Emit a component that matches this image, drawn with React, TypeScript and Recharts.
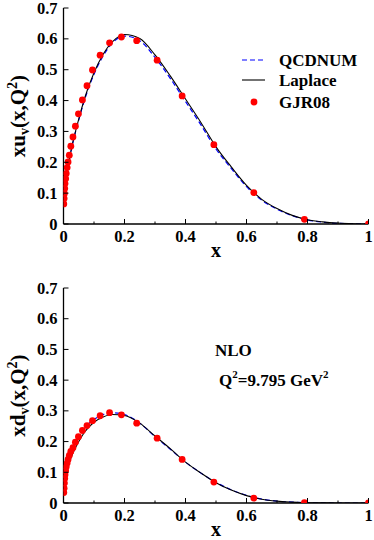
import React from 'react';
import { ComposedChart, Line, Scatter, XAxis, YAxis, Label } from 'recharts';

// ---------- data ----------
const curveX = [0.001, 0.002, 0.005, 0.01, 0.02, 0.03, 0.05, 0.07, 0.1, 0.13, 0.16, 0.2, 0.25, 0.3, 0.35, 0.4, 0.45, 0.5, 0.55, 0.6, 0.65, 0.7, 0.75, 0.8, 0.85, 0.9, 0.95, 1.0];

const uLaplace = [0.058, 0.072, 0.11, 0.155, 0.215, 0.262, 0.34, 0.41, 0.49, 0.55, 0.59, 0.614, 0.601, 0.548, 0.48, 0.405, 0.33, 0.25, 0.185, 0.125, 0.08, 0.05, 0.028, 0.014, 0.007, 0.003, 0.001, 0.0];
const uQcdnum = [0.055, 0.07, 0.107, 0.152, 0.212, 0.26, 0.337, 0.405, 0.485, 0.545, 0.586, 0.609, 0.594, 0.54, 0.472, 0.397, 0.322, 0.243, 0.18, 0.121, 0.077, 0.048, 0.027, 0.013, 0.006, 0.002, 0.001, 0.0];

const dLaplace = [0.03, 0.04, 0.07, 0.1, 0.135, 0.16, 0.2, 0.232, 0.263, 0.28, 0.288, 0.285, 0.26, 0.218, 0.177, 0.133, 0.098, 0.066, 0.042, 0.024, 0.012, 0.006, 0.003, 0.001, 0.0005, 0.0, 0.0, 0.0];
const dQcdnum = [0.035, 0.05, 0.085, 0.115, 0.152, 0.178, 0.215, 0.245, 0.272, 0.288, 0.294, 0.288, 0.26, 0.216, 0.175, 0.133, 0.098, 0.067, 0.043, 0.025, 0.013, 0.006, 0.003, 0.001, 0.0005, 0.0, 0.0, 0.0];

const gjrX = [0.001, 0.002, 0.003, 0.004, 0.005, 0.007, 0.009, 0.012, 0.015, 0.019, 0.024, 0.031, 0.039, 0.049, 0.062, 0.077, 0.095, 0.12, 0.151, 0.19, 0.24, 0.307, 0.389, 0.493, 0.624, 0.79, 1.0];
const gjrU = [0.065, 0.083, 0.099, 0.115, 0.131, 0.147, 0.164, 0.183, 0.201, 0.223, 0.252, 0.282, 0.317, 0.357, 0.402, 0.448, 0.499, 0.547, 0.587, 0.606, 0.594, 0.531, 0.415, 0.257, 0.102, 0.015, 0.0];
const gjrD = [0.034, 0.048, 0.065, 0.08, 0.092, 0.105, 0.118, 0.13, 0.142, 0.155, 0.168, 0.18, 0.198, 0.216, 0.236, 0.252, 0.268, 0.284, 0.294, 0.287, 0.26, 0.211, 0.142, 0.068, 0.016, 0.001, 0.0];

const xTicks = [0, 0.1, 0.2, 0.3, 0.4, 0.5, 0.6, 0.7, 0.8, 0.9, 1.0];
const xTickLabels: Record<string, string> = { '0': '0', '0.2': '0.2', '0.4': '0.4', '0.6': '0.6', '0.8': '0.8', '1': '1' };
const yTicks = [0, 0.1, 0.2, 0.3, 0.4, 0.5, 0.6, 0.7];
const yTickLabels = ['0', '0.1', '0.2', '0.3', '0.4', '0.5', '0.6', '0.7'];

const legendNames = ['QCDNUM', 'Laplace', 'GJR08'];

const toRows = (xs: number[], ys: number[]) => xs.map((x, i) => ({ x, y: ys[i] }));

// ---------- styling ----------
const FONT = '"Liberation Serif", "Times New Roman", serif';
const BLUE = '#0000ff';
const RED = '#ff0000';
const W = 374;
const H = 270;

const labelFor = (v: number) => xTickLabels[String(Math.round(v * 10) / 10)];

const XTickBottom = (props: any) => {
  const { x, y, payload } = props;
  const lab = labelFor(payload.value);
  const major = lab !== undefined;
  return (
    <g>
      <line x1={x} x2={x} y1={y} y2={y - (major ? 5 : 2.5)} stroke="#000" strokeWidth={1} />
      {major && (
        <text x={x} y={y + 18} textAnchor="middle" fontFamily={FONT} fontWeight="bold" fontSize={16.5} fill="#000">
          {lab}
        </text>
      )}
    </g>
  );
};

const XTickTop = (props: any) => {
  const { x, y, payload } = props;
  const major = labelFor(payload.value) !== undefined;
  return <line x1={x} x2={x} y1={y} y2={y + (major ? 5 : 2.5)} stroke="#000" strokeWidth={1} />;
};

const YTickLeft = (props: any) => {
  const { x, y, payload, index } = props;
  return (
    <g>
      <line x1={x} x2={x + 5} y1={y} y2={y} stroke="#000" strokeWidth={1} />
      <text x={x - 6} y={y + 5.5} textAnchor="end" fontFamily={FONT} fontWeight="bold" fontSize={16.5} fill="#000">
        {yTickLabels[index] ?? String(payload.value)}
      </text>
    </g>
  );
};

const YTickRight = (props: any) => {
  const { x, y } = props;
  return <line x1={x} x2={x - 5} y1={y} y2={y} stroke="#000" strokeWidth={1} />;
};

const XTitle = (props: any) => {
  const vb = props.viewBox;
  return (
    <text x={vb.x + vb.width / 2} y={vb.y + 33} textAnchor="middle" fontFamily={FONT} fontWeight="bold" fontSize={20} fill="#000">
      x
    </text>
  );
};

const makeYTitle = (letter: string) => (props: any) => {
  const vb = props.viewBox;
  const cx = 25;
  const cy = vb.y + vb.height / 2;
  return (
    <text
      x={cx}
      y={cy}
      transform={`rotate(-90, ${cx}, ${cy})`}
      textAnchor="middle"
      fontFamily={FONT}
      fontWeight="bold"
      fontSize={21}
      fill="#000"
    >
      <tspan>{'x' + letter}</tspan>
      <tspan fontSize={14} dy={4}>v</tspan>
      <tspan fontSize={21} dy={-4}>(x,Q</tspan>
      <tspan fontSize={14} dy={-8}>2</tspan>
      <tspan fontSize={21} dy={8}>)</tspan>
    </text>
  );
};

const RedDot = (p: any) => <circle cx={p.cx} cy={p.cy} r={3.4} fill={RED} stroke="none" />;

type PanelProps = {
  lap: number[];
  qcd: number[];
  gjr: number[];
  letter: string;
  top: number;
  xAxisHeight: number;
  dotsOnTop: boolean;
};

const Panel = ({ lap, qcd, gjr, letter, top, xAxisHeight, dotsOnTop }: PanelProps) => {
  const lapRows = toRows(curveX, lap);
  const qcdRows = toRows(curveX, qcd);
  const gjrRows = toRows(gjrX, gjr);
  const dots = (
    <Scatter key="gjr" name="GJR08" data={gjrRows} dataKey="y" fill={RED} shape={RedDot} isAnimationActive={false} />
  );
  const lines = [
    <Line key="qcd" name="QCDNUM" data={qcdRows} dataKey="y" type="monotone" stroke={BLUE} strokeWidth={1.2} strokeDasharray="5 3" dot={false} activeDot={false} isAnimationActive={false} />,
    <Line key="lap" name="Laplace" data={lapRows} dataKey="y" type="monotone" stroke="#000" strokeWidth={1.1} dot={false} activeDot={false} isAnimationActive={false} />,
  ];
  return (
    <ComposedChart width={W} height={H} margin={{ top, right: 5.5, bottom: 0, left: 0 }}>
      <XAxis
        dataKey="x"
        type="number"
        domain={[0, 1]}
        ticks={xTicks}
        allowDataOverflow
        height={xAxisHeight}
        tickSize={0}
        tickMargin={0}
        tickLine={false}
        axisLine={{ stroke: '#000', strokeWidth: 1.3 }}
        tick={<XTickBottom />}
        interval={0}
      >
        <Label content={XTitle} />
      </XAxis>
      <XAxis
        xAxisId="top"
        orientation="top"
        dataKey="x"
        type="number"
        domain={[0, 1]}
        ticks={xTicks}
        allowDataOverflow
        height={0}
        tickSize={0}
        tickMargin={0}
        tickLine={false}
        axisLine={{ stroke: '#000', strokeWidth: 1.3 }}
        tick={<XTickTop />}
        interval={0}
      />
      <YAxis
        dataKey="y"
        type="number"
        domain={[0, 0.7]}
        ticks={yTicks}
        allowDataOverflow
        width={63.5}
        tickSize={0}
        tickMargin={0}
        tickLine={false}
        axisLine={{ stroke: '#000', strokeWidth: 1.3 }}
        tick={<YTickLeft />}
        interval={0}
      >
        <Label content={makeYTitle(letter)} />
      </YAxis>
      <YAxis
        yAxisId="right"
        orientation="right"
        type="number"
        domain={[0, 0.7]}
        ticks={yTicks}
        allowDataOverflow
        width={0}
        tickSize={0}
        tickMargin={0}
        tickLine={false}
        axisLine={{ stroke: '#000', strokeWidth: 1.3 }}
        tick={<YTickRight />}
        interval={0}
      />
      {dotsOnTop ? lines : dots}
      {dotsOnTop ? dots : lines}
    </ComposedChart>
  );
};

const textStyle = { fontFamily: FONT, fontWeight: 'bold' as const, fill: '#000' };

export default function App() {
  return (
    <div style={{ position: 'absolute', left: 0, top: 0, width: W, height: 540, background: '#fff' }}>
      <Panel lap={uLaplace} qcd={uQcdnum} gjr={gjrU} letter="u" top={8} xAxisHeight={46} dotsOnTop={true} />
      <Panel lap={dLaplace} qcd={dQcdnum} gjr={gjrD} letter="d" top={18} xAxisHeight={37} dotsOnTop={false} />
      <svg width={W} height={540} style={{ position: 'absolute', left: 0, top: 0, pointerEvents: 'none' }}>
        {/* legend */}
        <line x1={242} x2={265} y1={60} y2={60} stroke={BLUE} strokeWidth={1.2} strokeDasharray="5 3" />
        <text x={279} y={66} fontSize={17} {...textStyle}>{legendNames[0]}</text>
        <line x1={242} x2={265} y1={80} y2={80} stroke="#000" strokeWidth={1.1} />
        <text x={279} y={86} fontSize={17} {...textStyle}>{legendNames[1]}</text>
        <circle cx={254} cy={102} r={3.4} fill={RED} />
        <text x={279} y={108} fontSize={17} {...textStyle}>{legendNames[2]}</text>
        {/* annotation */}
        <text x={215} y={356} fontSize={17} {...textStyle}>NLO</text>
        <text x={219} y={386} fontSize={17} {...textStyle}>
          <tspan>Q</tspan>
          <tspan fontSize={11} dy={-8}>2</tspan>
          <tspan fontSize={17} dy={8}>=9.795 GeV</tspan>
          <tspan fontSize={11} dy={-8}>2</tspan>
        </text>
      </svg>
    </div>
  );
}
